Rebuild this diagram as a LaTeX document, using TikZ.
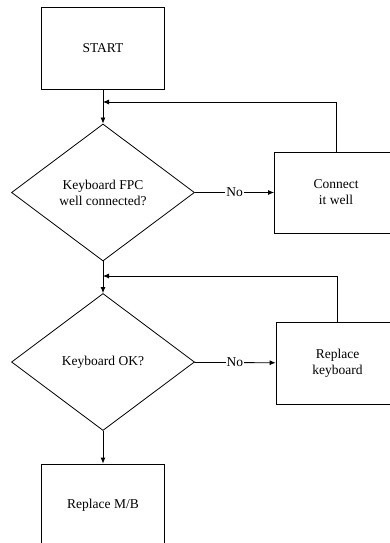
\documentclass[tikz,border=0pt]{standalone}
\usepackage{fontspec}
\setmainfont{Liberation Serif}
\usetikzlibrary{shapes.geometric, arrows.meta}

\begin{document}
\begin{tikzpicture}[x=1pt, y=-1pt, line width=0.8pt,
    >={Latex[length=6pt,width=5pt]},
    every node/.style={font=\fontsize{13.5}{16}\selectfont, align=center},
    procbox/.style={draw, rectangle, minimum width=123pt, minimum height=82pt, inner sep=0pt},
    decision/.style={draw, diamond, minimum width=183pt, minimum height=137pt, aspect=1.34, inner sep=0pt},
    nolabel/.style={fill=white, inner sep=1pt}]
  \useasboundingbox (0,0) rectangle (390,543);
  \clip (0,0) rectangle (390,543);

  % main column
  \node[procbox] (start) at (103,48.5) {START};
  \node[decision] (kbfpc) at (103,192.5) {Keyboard FPC\\well connected?};
  \node[decision] (kbok) at (103,362) {Keyboard OK?};
  \node[procbox, minimum height=83pt] (mb) at (103,505.5) {Replace M/B};

  % repair steps on the right
  \node[procbox, minimum height=81pt] (conn) at (336,192.5) {Connect\\it well};
  \node[procbox] (repkb) at (337.5,363) {Replace\\keyboard};

  % merge points of the return lines
  \coordinate (j1) at (103,102);
  \coordinate (j2) at (103,276);

  % flow downwards
  \draw[->] (start) -- (kbfpc);
  \draw[->] (kbfpc) -- (kbok);
  \draw[->] (kbok) -- (mb);

  % no branches
  \draw[->] (kbfpc) -- node[nolabel] {No} (conn);
  \draw[->] (kbok) -- node[nolabel] {No} (repkb);

  % back to the main column
  \draw[->] (conn.north) |- (j1);
  \draw[->] (repkb.north) |- (j2);
\end{tikzpicture}
\end{document}
